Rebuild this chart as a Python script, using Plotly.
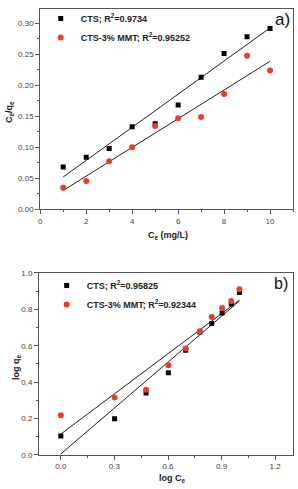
import numpy as np
import plotly.graph_objects as go

# ---- data ----
ce = [1, 2, 3, 4, 5, 6, 7, 8, 9, 10]
cts_ratio = [0.068, 0.0836, 0.098, 0.133, 0.1376, 0.168, 0.2127, 0.251, 0.278, 0.2915]
mmt_ratio = [0.0344, 0.0455, 0.0772, 0.100, 0.134, 0.1466, 0.1487, 0.1857, 0.2476, 0.2238]

log_ce = [0.0, 0.301, 0.477, 0.602, 0.699, 0.778, 0.845, 0.903, 0.954, 1.0]
cts_logq = [0.104, 0.199, 0.34, 0.451, 0.575, 0.675, 0.722, 0.78, 0.83, 0.893]
mmt_logq = [0.218, 0.315, 0.358, 0.492, 0.585, 0.68, 0.758, 0.808, 0.846, 0.91]

label_a1 = "<b>CTS; R<sup>2</sup>=0.9734</b>"
label_a2 = "<b>CTS-3% MMT; R<sup>2</sup>=0.95252</b>"
label_b1 = "<b>CTS; R<sup>2</sup>=0.95825</b>"
label_b2 = "<b>CTS-3% MMT; R<sup>2</sup>=0.92344</b>"

RED = "#ee3b2b"
FONT = "Liberation Sans"
W, H = 298, 489

def fit(x, y):
    k, b = np.polyfit(x, y, 1)
    xs = np.array([min(x), max(x)])
    return xs, k * xs + b

fig = go.Figure()

# top panel
for xs, ys in (fit(ce, cts_ratio), fit(ce, mmt_ratio)):
    fig.add_trace(go.Scatter(x=xs, y=ys, mode="lines", line=dict(color="#222", width=1),
                             showlegend=False, xaxis="x", yaxis="y"))
fig.add_trace(go.Scatter(x=ce, y=cts_ratio, mode="markers", name=label_a1,
                         marker=dict(symbol="square", size=5, color="black"),
                         xaxis="x", yaxis="y", legend="legend"))
fig.add_trace(go.Scatter(x=ce, y=mmt_ratio, mode="markers", name=label_a2,
                         marker=dict(symbol="circle", size=6, color=RED),
                         xaxis="x", yaxis="y", legend="legend"))

# bottom panel
for xs, ys in (fit(log_ce, cts_logq), fit(log_ce, mmt_logq)):
    fig.add_trace(go.Scatter(x=xs, y=ys, mode="lines", line=dict(color="#222", width=1),
                             showlegend=False, xaxis="x2", yaxis="y2"))
fig.add_trace(go.Scatter(x=log_ce, y=cts_logq, mode="markers", name=label_b1,
                         marker=dict(symbol="square", size=5, color="black"),
                         xaxis="x2", yaxis="y2", legend="legend2"))
fig.add_trace(go.Scatter(x=log_ce, y=mmt_logq, mode="markers", name=label_b2,
                         marker=dict(symbol="circle", size=6, color=RED),
                         xaxis="x2", yaxis="y2", legend="legend2"))

def px_x(p):
    return p / W

def px_y(p):
    return 1 - p / H

axis_common = dict(showgrid=False, zeroline=False, showline=True, linecolor="#555",
                   linewidth=1, mirror=True, ticks="outside", ticklen=4, tickwidth=1,
                   tickcolor="#555", tickfont=dict(size=8, color="#444", family=FONT))

fig.update_layout(
    width=W, height=H, margin=dict(l=0, r=0, t=0, b=0),
    paper_bgcolor="white", plot_bgcolor="white",
    font=dict(family=FONT, color="#222"),
    xaxis=dict(domain=[px_x(38.5), px_x(293)], range=[0, 11], tickvals=[0, 2, 4, 6, 8, 10],
               minor=dict(ticks="outside", ticklen=2, dtick=1, tick0=0, tickcolor="#555"),
               anchor="y", **axis_common),
    yaxis=dict(domain=[px_y(209), px_y(5)], range=[0, 0.323], tickvals=[0, 0.05, 0.1, 0.15, 0.2, 0.25, 0.3],
               tickformat=".2f",
               minor=dict(ticks="outside", ticklen=2, dtick=0.025, tick0=0, tickcolor="#555"),
               anchor="x", **axis_common),
    xaxis2=dict(domain=[px_x(37.3), px_x(293)], range=[-0.122, 1.3], tickvals=[0, 0.3, 0.6, 0.9, 1.2],
                tickformat=".1f",
                minor=dict(ticks="outside", ticklen=2, dtick=0.15, tick0=0, tickcolor="#555"),
                anchor="y2", **axis_common),
    yaxis2=dict(domain=[px_y(459.3), px_y(274)], range=[0, 1.0], tickvals=[0, 0.2, 0.4, 0.6, 0.8, 1.0],
                tickformat=".1f",
                minor=dict(ticks="outside", ticklen=2, dtick=0.1, tick0=0, tickcolor="#555"),
                anchor="x2", **axis_common),
    legend=dict(x=px_x(39), y=px_y(0), xanchor="left", yanchor="top", bgcolor="rgba(0,0,0,0)",
                font=dict(size=9, color="#222", family=FONT), tracegroupgap=0, itemwidth=30),
    legend2=dict(x=px_x(45), y=px_y(272), xanchor="left", yanchor="top", bgcolor="rgba(0,0,0,0)",
                 font=dict(size=9, color="#222", family=FONT), tracegroupgap=0, itemwidth=30),
    annotations=[
        dict(text="a)", x=px_x(292), y=px_y(16), xref="paper", yref="paper", xanchor="right",
             yanchor="middle", showarrow=False, font=dict(size=17, color="#111", family=FONT)),
        dict(text="b)", x=px_x(290), y=px_y(285), xref="paper", yref="paper", xanchor="right",
             yanchor="middle", showarrow=False, font=dict(size=16, color="#111", family=FONT)),
        dict(text="<b>C<sub>e</sub> (mg/L)</b>", x=px_x(167), y=px_y(236), xref="paper", yref="paper",
             xanchor="center", yanchor="middle", showarrow=False, font=dict(size=9, color="#222", family=FONT)),
        dict(text="<b>C<sub>e</sub>/q<sub>e</sub></b>", x=px_x(8), y=px_y(110), xref="paper", yref="paper",
             xanchor="center", yanchor="middle", showarrow=False, textangle=-90,
             font=dict(size=9, color="#222", family=FONT)),
        dict(text="<b>log C<sub>e</sub></b>", x=px_x(172), y=px_y(483), xref="paper", yref="paper",
             xanchor="center", yanchor="middle", showarrow=False, font=dict(size=9, color="#222", family=FONT)),
        dict(text="<b>log q<sub>e</sub></b>", x=px_x(14), y=px_y(370), xref="paper", yref="paper",
             xanchor="center", yanchor="middle", showarrow=False, textangle=-90,
             font=dict(size=9, color="#222", family=FONT)),
    ],
)

fig.write_html("out.html")
